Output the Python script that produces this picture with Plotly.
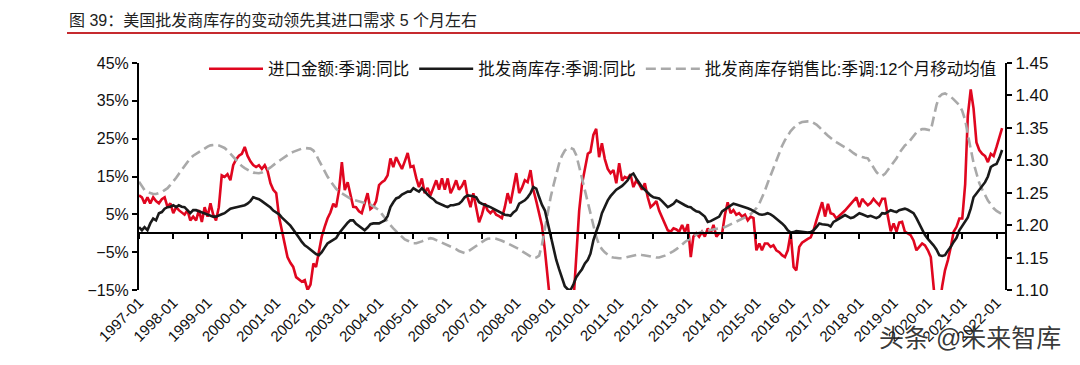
import pandas as pd
import plotly.graph_objects as go

title_text = "图 39：美国批发商库存的变动领先其进口需求 5 个月左右"
series_names = ["进口金额:季调:同比", "批发商库存:季调:同比", "批发商库存销售比:季调:12个月移动均值"]
watermark_text = "头条 @未来智库"
start_month = "1997-01-01"
end_month = "2022-04-01"
tick_years = list(range(1997, 2023))

# 进口金额:季调:同比 (%), monthly from 1997-01
imports_yoy = [
    10, 9.5, 7.9, 9.5, 7.9, 9.5, 8.5, 7.9, 9, 9.5, 6.9, 7.9,            # 1997
    5.3, 6.9, 6.1, 5.5, 4.9, 6.1, 3.4, 4.4, 3.4, 6.1, 3, 6.9,           # 1998
    4.4, 7.9, 5, 3.4, 6.9, 15.3, 14.9, 15.6, 14, 18, 19.5, 20.5,        # 1999
    21, 22.8, 20.5, 19, 18, 17.5, 18, 17, 18, 16.5, 13.2, 11.5,         # 2000
    10.6, 4.2, 0.8, -2.7, -6.3, -7.8, -8.9, -11.6, -12.2, -12.8, -12.4, -15,  # 2001
    -13.6, -8, -8.9, -4.5, -0.9, 1.7, 3.9, 5.5, 7.8, 6.9, 11.4, 18.8,   # 2002
    11.4, 13.5, 10, 7, 6.9, 5.8, 5.3, 8, 10.6, 6.4, 7, 8.5,             # 2003
    12.7, 13.5, 14, 15.3, 19.8, 17.5, 20.1, 18.5, 17, 19, 21.2, 17.5,   # 2004
    17.8, 14.5, 12.2, 14.5, 10.6, 12, 10, 12, 14, 11.5, 14.5, 11.5,     # 2005
    14.5, 10.6, 12, 14, 11.5, 12.5, 14, 9.5, 6.9, 10.6, 6.1, 2.9,       # 2006
    5, 7.9, 6.1, 5.3, 6.1, 4.9, 4.5, 4, 6.9, 10.6, 7.9, 11.5,           # 2007
    15.9, 10.6, 12, 14, 13.5, 16.7, 11.5, 8.5, 5.5, 2, -4.5, -14,       # 2008
    -21, -27, -31, -34, -35, -33, -30, -25, -18, -7, 6, 13,             # 2009
    17.5, 21, 21.5, 26, 27.6, 20.1, 23.8, 19.6, 17, 15.9, 16.7, 13.2,   # 2010
    18.5, 13.9, 14.9, 14.5, 15.6, 12.2, 13.9, 13, 11.5, 13.2, 9.5, 6.9, # 2011
    7.6, 8.5, 6, 4.2, 2.6, 0.8, 0.4, 1.3, 1, 0.4, 2.2, 0.3,             # 2012
    2.4, -6.3, -0.9, 0, -0.9, 0.4, -0.9, 1.3, 0, 2.2, -0.9, 0,          # 2013
    0, 5, 8.2, 5.3, 6.1, 4.9, 5.3, 4.4, 4.9, 3.4, 4.4, 4,               # 2014
    -4.5, -2.7, -4.5, -2.7, -2.7, -3.6, -3.2, -4.5, -5, -5.8, -6.3, -4.5,  # 2015
    0, -8.9, -9.8, -3.6, -2.5, -1.9, -1.5, -1.1, 0.8, 3.4, 6, 8.2,      # 2016
    4.4, 7.8, 5.3, 5, 3.9, 4.5, 5.3, 6, 6.9, 7.8, 8.7, 9.5,             # 2017
    6.9, 9.1, 8.2, 7.4, 8, 9.1, 8.2, 7.4, 9.1, 9.1, 4.4, 0.5,           # 2018
    2.6, 0.4, 2.8, 3, 0.4, 0, -0.5, -1.9, -4.5, -3.6, -2.7, -3.2,       # 2019
    -4.5, -6.3, -16.5, -22, -20, -14, -9.8, -7.1, -3.6, 0.4, 1.7, 3.9,  # 2020
    3.9, 13, 31, 38, 33, 24, 22, 21, 20.4, 18.8, 21, 20.4,              # 2021
    22.8, 25.4, 27.8,                                                   # 2022
]

# 批发商库存:季调:同比 (%)
inventory_yoy = [
    1.6, 0.8, 1.6, 0.8, 2.6, 3.9, 3.4, 5.3, 5.6, 6.5, 6.9, 7,           # 1997
    7.4, 6.9, 7.4, 7, 6.9, 6, 5.3, 6.1, 6.1, 5.8, 5.5, 5.3,             # 1998
    4.9, 4.7, 4.4, 4.4, 4.6, 5, 5.3, 5.8, 6.5, 6.7, 6.9, 7.1,           # 1999
    7.2, 7.4, 7.8, 8.5, 9.5, 9.3, 9, 8.5, 8, 7.5, 6.8, 6,               # 2000
    5.5, 5, 4.2, 3.5, 2.9, 2, 1, 0, -1.2, -2.3, -3.2, -3.7,             # 2001
    -4.4, -5, -5.5, -5.8, -5, -3.8, -2.7, -2.2, -1.8, -1.3, 0, 1,       # 2002
    2, 2.8, 3.4, 3.4, 2.5, 2, 1.3, 0.8, 1.5, 2.4, 2.6, 2.6,             # 2003
    2.6, 3, 3.4, 4.5, 6.9, 8.2, 9.2, 9.5, 10.2, 10.6, 11, 11,           # 2004
    11.9, 11.4, 11, 11.9, 11, 10.2, 9.5, 9, 8.2, 7.8, 7.4, 7.2,         # 2005
    6.9, 7.4, 7.4, 7.6, 7.8, 8.5, 9.5, 10, 10, 9.8, 9.5, 8.2,           # 2006
    7.8, 7.4, 7.2, 6.9, 6.5, 6, 5.6, 5.2, 4.9, 4.8, 4.6, 5.5,           # 2007
    6.1, 7.8, 8.2, 8.7, 9.5, 10.6, 12.2, 11.8, 9.5, 7.5, 6, 2.6,        # 2008
    -0.5, -4, -7, -9.5, -12, -14, -14.8, -15, -13.5, -11.6, -10.5, -9.5,  # 2009
    -8, -7, -5.4, -1.9, 0.4, 2.5, 5.3, 7, 8.7, 9.8, 10.8, 11.5,         # 2010
    12, 12.5, 13.2, 14, 15.3, 15.8, 14.5, 13.3, 12.2, 11.5, 10.6, 10,   # 2011
    9.5, 9.3, 9.2, 8.5, 7.8, 6.9, 7.3, 7.8, 8.7, 8.2, 7.8, 7.4,         # 2012
    7, 6.9, 6.3, 5.8, 5.6, 5, 4.4, 3, 3.2, 3.6, 4, 4.4,                 # 2013
    5.8, 6.3, 6.9, 7.3, 7.8, 7.6, 7.4, 7.2, 6.9, 6.6, 6.3, 5.9,         # 2014
    5.3, 5, 4.9, 5, 5.3, 5, 4.5, 3.9, 3.2, 2.6, 1.8, 0.8,               # 2015
    0.2, 0.3, 0.6, 0.5, 0.3, 0.3, 0.2, 0.3, 0.8, 1.6, 2.6, 2.4,         # 2016
    2.2, 2.2, 1.8, 3, 3.4, 3.8, 4.2, 4.8, 4.4, 4, 4.2, 4.8,             # 2017
    5.3, 5, 4.8, 4.4, 4.6, 4.2, 4, 4.4, 5.3, 5.2, 5.6, 6.1,             # 2018
    5.8, 5.6, 6.1, 6.3, 6.5, 6.2, 5.8, 5.3, 4, 2.6, 1, -0.5,            # 2019
    -1.5, -2.3, -3.2, -4.3, -5.8, -6, -5.8, -4.6, -3.6, -2.3, -1.2, 0.8,  # 2020
    2, 3, 4.2, 6.5, 9.5, 10.5, 11.4, 12.5, 13.5, 15, 17.5, 18,          # 2021
    18.3, 20, 22,                                                       # 2022
]

# 批发商库存销售比:季调:12个月移动均值 (right axis)
inv_sales_ratio = [
    1.267, 1.26, 1.254, 1.251, 1.249, 1.248, 1.248, 1.249, 1.251, 1.254, 1.257, 1.262,  # 1997
    1.267, 1.273, 1.279, 1.285, 1.291, 1.297, 1.303, 1.307, 1.31, 1.313, 1.316, 1.318,  # 1998
    1.321, 1.323, 1.324, 1.324, 1.323, 1.321, 1.319, 1.315, 1.31, 1.305, 1.3, 1.295,    # 1999
    1.291, 1.288, 1.285, 1.283, 1.281, 1.28, 1.28, 1.281, 1.283, 1.286, 1.289, 1.293,   # 2000
    1.296, 1.299, 1.302, 1.305, 1.308, 1.311, 1.313, 1.315, 1.317, 1.318, 1.319, 1.319, # 2001
    1.318, 1.315, 1.309, 1.3, 1.291, 1.283, 1.275, 1.268, 1.262, 1.256, 1.252, 1.249,   # 2002
    1.246, 1.243, 1.241, 1.239, 1.238, 1.237, 1.236, 1.235, 1.234, 1.232, 1.229, 1.226, # 2003
    1.223, 1.217, 1.211, 1.205, 1.2, 1.195, 1.19, 1.186, 1.182, 1.178, 1.176, 1.174,    # 2004
    1.172, 1.172, 1.173, 1.175, 1.177, 1.179, 1.18, 1.179, 1.177, 1.175, 1.173, 1.171,  # 2005
    1.169, 1.167, 1.165, 1.163, 1.16, 1.158, 1.157, 1.159, 1.162, 1.165, 1.168, 1.172,  # 2006
    1.175, 1.177, 1.179, 1.18, 1.18, 1.179, 1.178, 1.176, 1.174, 1.172, 1.17, 1.168,    # 2007
    1.166, 1.163, 1.16, 1.157, 1.154, 1.151, 1.149, 1.15, 1.153, 1.17, 1.195, 1.22,     # 2008
    1.243, 1.262, 1.28, 1.295, 1.307, 1.315, 1.319, 1.319, 1.317, 1.308, 1.29, 1.272,   # 2009
    1.254, 1.235, 1.215, 1.196, 1.182, 1.17, 1.163, 1.158, 1.154, 1.151, 1.15, 1.149,   # 2010
    1.149, 1.149, 1.15, 1.151, 1.152, 1.153, 1.155, 1.155, 1.154, 1.153, 1.152, 1.151,  # 2011
    1.151, 1.15, 1.15, 1.151, 1.153, 1.155, 1.157, 1.16, 1.163, 1.166, 1.17, 1.174,     # 2012
    1.177, 1.18, 1.183, 1.186, 1.188, 1.19, 1.191, 1.192, 1.192, 1.193, 1.194, 1.195,   # 2013
    1.196, 1.197, 1.199, 1.201, 1.203, 1.205, 1.207, 1.209, 1.211, 1.214, 1.217, 1.221, # 2014
    1.226, 1.233, 1.242, 1.253, 1.265, 1.277, 1.289, 1.3, 1.312, 1.322, 1.331, 1.339,   # 2015
    1.345, 1.35, 1.354, 1.357, 1.359, 1.36, 1.36, 1.36, 1.358, 1.355, 1.351, 1.346,     # 2016
    1.342, 1.338, 1.334, 1.331, 1.328, 1.325, 1.322, 1.32, 1.318, 1.314, 1.311, 1.308,  # 2017
    1.306, 1.305, 1.304, 1.303, 1.296, 1.288, 1.282, 1.277, 1.276, 1.279, 1.285, 1.29,  # 2018
    1.296, 1.303, 1.311, 1.318, 1.323, 1.326, 1.332, 1.338, 1.343, 1.346, 1.348, 1.348, # 2019
    1.347, 1.346, 1.365, 1.385, 1.398, 1.402, 1.403, 1.401, 1.398, 1.394, 1.39, 1.385,  # 2020
    1.376, 1.362, 1.34, 1.315, 1.296, 1.28, 1.265, 1.255, 1.246, 1.238, 1.232, 1.226,   # 2021
    1.222, 1.219, 1.217,                                                                # 2022
]

dates = pd.date_range(start_month, periods=len(imports_yoy), freq="MS")
tick_dates = [pd.Timestamp(f"{y}-01-01") for y in tick_years]
tick_labels = [f"{y}-01" for y in tick_years]

FONT = "Liberation Sans, Arial, Noto Sans CJK SC, sans-serif"
RED = "#E0061F"
BLACK = "#1A1A1A"
GRAY = "#A9A9A9"

fig = go.Figure()
fig.add_trace(go.Scatter(
    x=dates, y=inv_sales_ratio, name=series_names[2], yaxis="y2", mode="lines",
    line=dict(color=GRAY, width=2.6, dash="10px,5px"), legendrank=3))
fig.add_trace(go.Scatter(
    x=dates, y=imports_yoy, name=series_names[0], mode="lines",
    line=dict(color=RED, width=2.6), legendrank=1))
fig.add_trace(go.Scatter(
    x=dates, y=inventory_yoy, name=series_names[1], mode="lines", xaxis="x2",
    line=dict(color=BLACK, width=2.6), legendrank=2))

L, R, T, B = 139, 75, 63, 75
W, H = 1080, 365
pw, ph = W - L - R, H - T - B

def px_x(x):
    return (x - L) / pw

def px_y(y):
    return (H - B - y) / ph

fig.update_layout(
    width=W, height=H,
    margin=dict(l=L, r=R, t=T, b=B),
    paper_bgcolor="white", plot_bgcolor="white",
    font=dict(family=FONT, size=16, color="#111"),
    showlegend=True,
    legend=dict(orientation="h", x=px_x(204), y=px_y(69), xanchor="left", yanchor="middle",
                bgcolor="rgba(0,0,0,0)", font=dict(size=16.5, color="#111"),
                itemwidth=54, tracegroupgap=0),
    xaxis=dict(type="date", range=[start_month, end_month],
               tickmode="array", tickvals=tick_dates, ticktext=tick_labels,
               tickangle=-45, ticks="", showline=False, showgrid=False, zeroline=False,
               tickfont=dict(size=15, color="#111")),
    xaxis2=dict(type="date", range=[start_month, end_month], overlaying="x",
                anchor="free", position=0.25,
                tickmode="array", tickvals=tick_dates, showticklabels=False,
                ticks="outside", ticklen=5, tickwidth=1.5, tickcolor="black",
                showline=True, linecolor="black", linewidth=2,
                showgrid=False, zeroline=False),
    yaxis=dict(range=[-15, 45], tick0=-15, dtick=10, ticksuffix="%",
               showline=True, linecolor="black", linewidth=2,
               ticks="outside", ticklen=5, tickwidth=2, tickcolor="black",
               showgrid=False, zeroline=False, tickfont=dict(size=16, color="#111")),
    yaxis2=dict(range=[1.10, 1.45], tick0=1.10, dtick=0.05, tickformat=".2f",
                overlaying="y", side="right", anchor="x",
                showline=True, linecolor="black", linewidth=2,
                ticks="outside", ticklen=5, tickwidth=2, tickcolor="black",
                showgrid=False, zeroline=False, tickfont=dict(size=17, color="#111")),
)

fig.add_annotation(text=title_text, xref="paper", yref="paper",
                   x=px_x(67), y=px_y(20), xanchor="left", yanchor="middle",
                   showarrow=False, font=dict(size=16, color="#222"))
fig.add_shape(type="line", xref="paper", yref="paper",
              x0=px_x(67), x1=px_x(1080), y0=px_y(33), y1=px_y(33),
              line=dict(color="#C62A2F", width=2))
fig.add_annotation(text=watermark_text, xref="paper", yref="paper",
                   x=px_x(970), y=px_y(338), xanchor="center", yanchor="middle",
                   showarrow=False, font=dict(size=25, color="rgba(30,30,30,0.9)"))

fig.write_html("out.html", config={"displayModeBar": False},
               post_script="document.body.style.margin='0';")
